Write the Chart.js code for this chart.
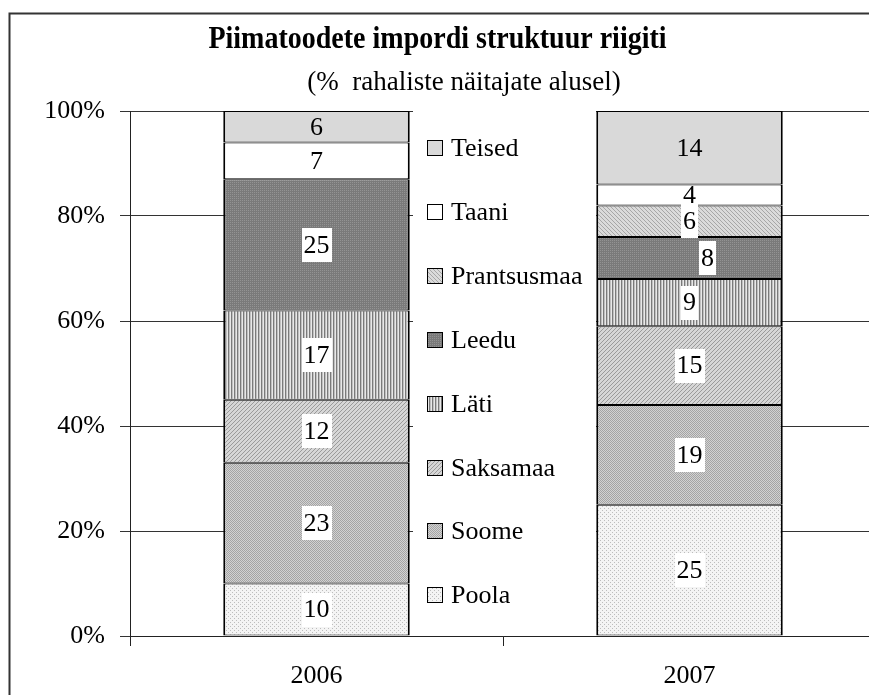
<!DOCTYPE html>
<html><head><meta charset="utf-8">
<script src="https://cdn.jsdelivr.net/npm/chart.js@4/dist/chart.umd.min.js"></script>
<style>html,body{margin:0;padding:0;overflow:hidden;background:#fff;width:869px;height:695px}
canvas{display:block}</style></head>
<body><canvas id="c" width="886" height="700" style="width:886px;height:700px"></canvas>
<script>
// ---- data ----
const years = ['2006', '2007'];
const countries = ['Poola', 'Soome', 'Saksamaa', 'Läti', 'Leedu', 'Prantsusmaa', 'Taani', 'Teised'];
const poola = [10, 25];
const soome = [23, 19];
const saksamaa = [12, 15];
const lati = [17, 9];
const leedu = [25, 8];
const prantsusmaa = [0, 6];
const taani = [7, 4];
const teised = [6, 14];
const yTickValues = [0, 20, 40, 60, 80, 100];
const titleText = 'Piimatoodete impordi struktuur riigiti';
const subtitleText = '(%  rahaliste näitajate alusel)';

// ---- fills ----
function makePattern(rows, colors) {
  const h = rows.length, w = rows[0].length;
  const c = document.createElement('canvas'); c.width = w; c.height = h;
  const x = c.getContext('2d');
  for (let j = 0; j < h; j++) for (let i = 0; i < w; i++) {
    x.fillStyle = colors[rows[j][i]]; x.fillRect(i, j, 1, 1);
  }
  return x.createPattern(c, 'repeat');
}
const fills = [
  makePattern(['a...', '....', '..a.', '....'], {a: '#bdbdbd', '.': '#f4f4f4'}),            // Poola
  makePattern(['ab', 'ba'], {a: '#a4a4a4', b: '#d2d2d2'}),                                   // Soome
  makePattern(['...a', '..a.', '.a..', 'a...'], {a: '#9a9a9a', '.': '#d6d6d6'}),             // Saksamaa
  makePattern(['abc'], {a: '#7a7a7a', b: '#c0c0c0', c: '#e8e8e8'}),                          // Läti
  makePattern(['ab', 'bb'], {a: '#939393', b: '#7a7a7a'}),                                   // Leedu
  makePattern(['a...', '.a..', '..a.', '...a'], {a: '#a6a6a6', '.': '#dadada'}),             // Prantsusmaa
  '#ffffff',                                                                                 // Taani
  '#d9d9d9'                                                                                  // Teised
];
const seriesValues = [poola, soome, saksamaa, lati, leedu, prantsusmaa, taani, teised];
const labelBoxes = [true, true, true, true, true, true, false, false];

const FONT = '"Liberation Serif", "Times New Roman", serif';

const datasets = countries.map((name, k) => ({
  label: name,
  data: seriesValues[k],
  backgroundColor: fills[k],
  borderColor: '#000',
  borderWidth: {top: 1, bottom: 1, left: 2, right: 2},
  borderSkipped: false,
  labelBox: labelBoxes[k],
  categoryPercentage: 1.0,
  barPercentage: 0.5
}));

const decoPlugin = {
  id: 'deco',
  beforeDraw(chart) {
    const ctx = chart.ctx;
    ctx.save();
    ctx.fillStyle = '#fff';
    ctx.fillRect(0, 0, chart.width, chart.height);
    ctx.strokeStyle = '#333';
    ctx.lineWidth = 2;
    ctx.beginPath();
    ctx.moveTo(9.5, chart.height + 10);
    ctx.lineTo(9.5, 13.5);
    ctx.lineTo(chart.width + 10, 13.5);
    ctx.stroke();
    ctx.restore();
  },
  afterDatasetsDraw(chart, args, opts) {
    const ctx = chart.ctx;
    ctx.save();
    // legend panel (covers gridlines between bars)
    ctx.fillStyle = '#fff';
    ctx.fillRect(413, 104, 183, 524);
    ctx.font = '26px ' + FONT;
    ctx.textBaseline = 'middle';
    ctx.textAlign = 'left';
    const ds = chart.data.datasets;
    const n = ds.length;
    for (let k = 0; k < n; k++) {
      const d = ds[n - 1 - k];
      const cy = Math.round(148 + k * 63.9);
      ctx.fillStyle = d.backgroundColor;
      ctx.fillRect(427, cy - 8, 16, 16);
      ctx.strokeStyle = '#000';
      ctx.lineWidth = 1;
      ctx.strokeRect(427.5, cy - 7.5, 15, 15);
      ctx.fillStyle = '#000';
      ctx.fillText(d.label, 451, cy + 1);
    }
    // segment value labels
    ctx.textAlign = 'center';
    const shifts = opts.labelShifts || {};
    ds.forEach((d, di) => {
      const meta = chart.getDatasetMeta(di);
      meta.data.forEach((bar, i) => {
        const v = d.data[i];
        if (!v) return;
        const p = bar.getProps(['x', 'y', 'base'], true);
        const cy = (p.y + p.base) / 2;
        const cx = p.x + (shifts[di + ':' + i] || 0);
        const t = String(v);
        const w = ctx.measureText(t).width;
        if (d.labelBox) {
          ctx.fillStyle = '#fff';
          ctx.fillRect(Math.round(cx - w / 2 - 2), Math.round(cy - 17), Math.round(w + 4), 34);
        }
        ctx.fillStyle = '#000';
        ctx.fillText(t, cx, cy + 1);
      });
    });
    ctx.restore();
  },
  afterDraw(chart) {
    const ctx = chart.ctx;
    ctx.save();
    ctx.fillStyle = '#000';
    ctx.textAlign = 'center';
    ctx.textBaseline = 'alphabetic';
    ctx.save();
    ctx.translate(437.5, 48);
    ctx.scale(1, 1.12);
    ctx.font = 'bold 28px ' + FONT;
    ctx.fillText(titleText, 0, 0);
    ctx.restore();
    ctx.font = '27px ' + FONT;
    ctx.fillText(subtitleText, 464, 90);
    ctx.restore();
  }
};

new Chart(document.getElementById('c'), {
  type: 'bar',
  data: {labels: years, datasets},
  options: {
    responsive: false,
    animation: false,
    devicePixelRatio: 1,
    layout: {padding: {top: 111, left: 0, right: 10, bottom: 0}},
    plugins: {
      legend: {display: false}, title: {display: false}, tooltip: {enabled: false},
      deco: {labelShifts: {'4:1': 18}}
    },
    scales: {
      x: {
        stacked: true,
        grid: {display: true, drawOnChartArea: false, drawTicks: true, tickLength: 10, offset: true, color: '#222', lineWidth: 1},
        border: {display: true, color: '#222', width: 1},
        ticks: {font: {family: FONT, size: 26}, color: '#000', padding: 14.4},
        afterFit(s) { s.height = 64; }
      },
      y: {
        stacked: true,
        min: 0, max: 100,
        afterBuildTicks(s) { s.ticks = yTickValues.map(v => ({value: v})); },
        ticks: {font: {family: FONT, size: 26}, color: '#000', padding: 15, callback: v => v + '%'},
        grid: {color: '#333', lineWidth: 1, tickLength: 10, drawTicks: true},
        border: {display: true, color: '#222', width: 1},
        afterFit(s) { s.width = 130; }
      }
    }
  },
  plugins: [decoPlugin]
});
</script>
</body></html>
